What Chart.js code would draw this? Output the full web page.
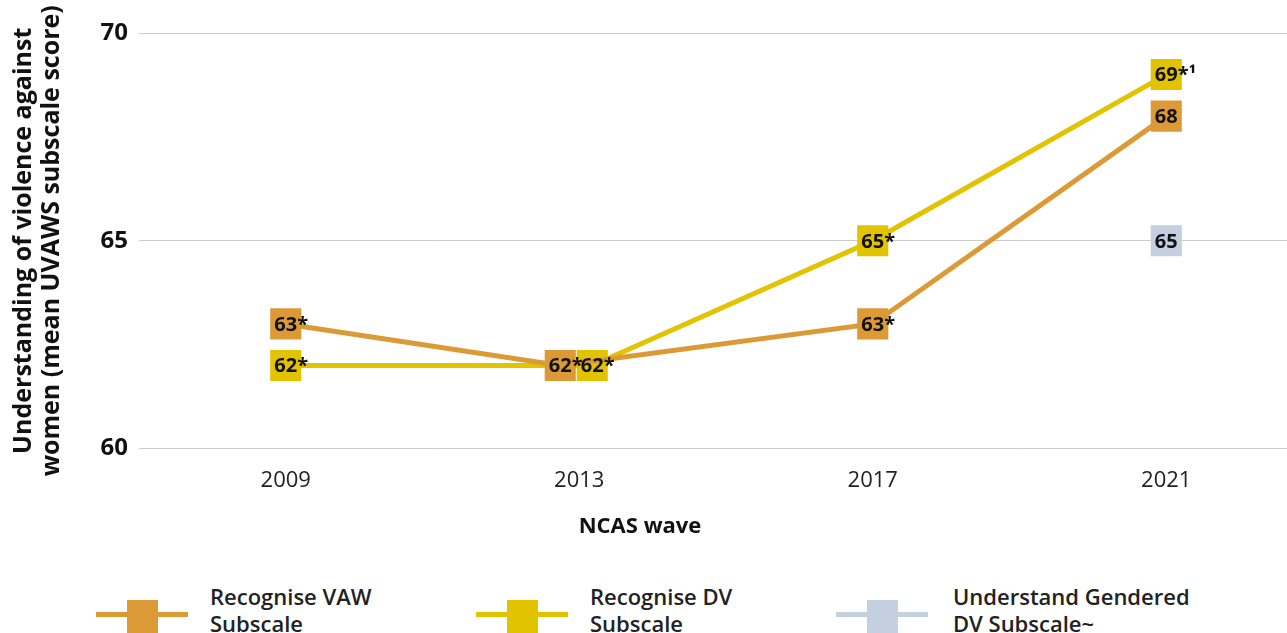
<!DOCTYPE html>
<html>
<head>
<meta charset="utf-8">
<script src="https://cdn.jsdelivr.net/npm/chart.js@4.4.1/dist/chart.umd.min.js"></script>
<style>
  html, body { margin: 0; padding: 0; background: #fff; overflow: hidden; width: 1287px; height: 633px; position: relative; }
  #chart { position: absolute; left: 0; top: 0; }
  #xtitle { position: absolute; left: 540px; width: 200px; top: 510px; text-align: center; font: bold 22px/28px "Open Sans", "Noto Sans", sans-serif; color: #111; }
  .line { position: absolute; top: 612px; height: 5px; width: 92px; }
  .box { position: absolute; top: 600px; width: 31px; height: 33px; }
  .txt { position: absolute; top: 583px; font-family: "Open Sans", "Noto Sans", sans-serif; font-weight: 600; font-size: 22px; line-height: 27px; color: #222; white-space: nowrap; }
</style>
</head>
<body>
<canvas id="chart" width="1335" height="522"></canvas>
<div id="xtitle">NCAS wave</div>
<div id="legend"></div>
<script>
var waves = ['2009', '2013', '2017', '2021'];
var vawScores = [63, 62, 63, 68];
var dvScores = [62, 62, 65, 69];
var genderedScores = [null, null, null, 65];
var vawLabels = ['63*', '62*', '63*', '68'];
var dvLabels = ['62*', '62*', '65*', '69*\u00b9'];
var genderedLabels = [null, null, null, '65'];
var yTicks = [60, 65, 70];
var legendLines = [
    ['Recognise VAW', 'Subscale'],
    ['Recognise DV', 'Subscale'],
    ['Understand Gendered', 'DV Subscale~']
];

var colours = { vaw: '#dc9a36', dv: '#e2c300', gendered: '#c4cfdf' };

// the two 2013 points sit side by side instead of on top of each other
var dodge = { 0: { 1: -19 }, 1: { 1: 13 } };

var font = "'Open Sans', 'Noto Sans', sans-serif";

var dodgePlugin = {
    id: 'dodge',
    afterDatasetsUpdate: function (chart) {
        chart.data.datasets.forEach(function (ds, di) {
            var offs = dodge[di];
            if (!offs) return;
            var meta = chart.getDatasetMeta(di);
            Object.keys(offs).forEach(function (i) {
                var pt = meta.data[i];
                if (pt) pt.x += offs[i];
            });
        });
    }
};

var labelPlugin = {
    id: 'pointLabels',
    afterDatasetsDraw: function (chart) {
        var ctx = chart.ctx;
        ctx.save();
        ctx.font = 'bold 20px ' + font;
        ctx.fillStyle = '#111';
        ctx.textBaseline = 'middle';
        ctx.textAlign = 'left';
        chart.data.datasets.forEach(function (ds, di) {
            var meta = chart.getDatasetMeta(di);
            ds.pointLabels.forEach(function (txt, i) {
                if (!txt) return;
                var pt = meta.data[i];
                var num = txt.match(/^\d+/)[0];
                var w = ctx.measureText(num).width;
                ctx.fillText(txt, pt.x - w / 2, pt.y + 1);
            });
        });
        ctx.restore();
    }
};

function series(label, data, labels, colour) {
    return {
        label: label,
        data: data,
        pointLabels: labels,
        borderColor: colour,
        backgroundColor: colour,
        borderWidth: 5,
        pointStyle: 'rect',
        pointRadius: 22,
        pointHoverRadius: 22,
        pointBorderWidth: 0,
        pointBackgroundColor: colour,
        fill: false,
        tension: 0
    };
}

var datasets = [
    series('Recognise VAW Subscale', vawScores, vawLabels, colours.vaw),
    series('Recognise DV Subscale', dvScores, dvLabels, colours.dv),
    series('Understand Gendered DV Subscale~', genderedScores, genderedLabels, colours.gendered)
];

new Chart(document.getElementById('chart'), {
    type: 'line',
    data: { labels: waves, datasets: datasets },
    plugins: [dodgePlugin, labelPlugin],
    options: {
        responsive: false,
        animation: false,
        layout: { padding: { top: 33, right: 7, left: 10, bottom: 9 } },
        plugins: {
            legend: { display: false },
            tooltip: { enabled: false }
        },
        scales: {
            x: {
                offset: true,
                grid: { display: false, drawTicks: false },
                border: { display: false },
                ticks: { color: '#222', padding: 19, font: { family: font, size: 22 } }
            },
            y: {
                min: 60,
                max: 70,
                afterBuildTicks: function (axis) {
                    axis.ticks = yTicks.map(function (v) { return { value: v }; });
                },
                afterFit: function (axis) { axis.width = 129; },
                grid: { color: '#cccccc', lineWidth: 1, drawTicks: false },
                border: { display: false },
                ticks: { color: '#111', padding: 11, font: { family: font, size: 24, weight: 'bold' } },
                title: {
                    display: true,
                    text: ['Understanding of violence against', 'women (mean UVAWS subscale score)'],
                    color: '#111',
                    padding: 0,
                    font: { family: font, size: 25, weight: 'bold', lineHeight: '28px' }
                }
            }
        }
    }
});

// legend below the chart
var legendLineX = [96, 476, 836];
var legendTextX = [210, 590, 953];
var legendEl = document.getElementById('legend');
datasets.forEach(function (ds, i) {
    var x = legendLineX[i];
    legendEl.insertAdjacentHTML('beforeend',
        '<div class="line" style="left:' + x + 'px;background:' + ds.borderColor + '"></div>' +
        '<div class="box" style="left:' + (x + 31) + 'px;background:' + ds.borderColor + '"></div>' +
        '<div class="txt" style="left:' + legendTextX[i] + 'px">' + legendLines[i].join('<br>') + '</div>');
});
</script>
</body>
</html>
